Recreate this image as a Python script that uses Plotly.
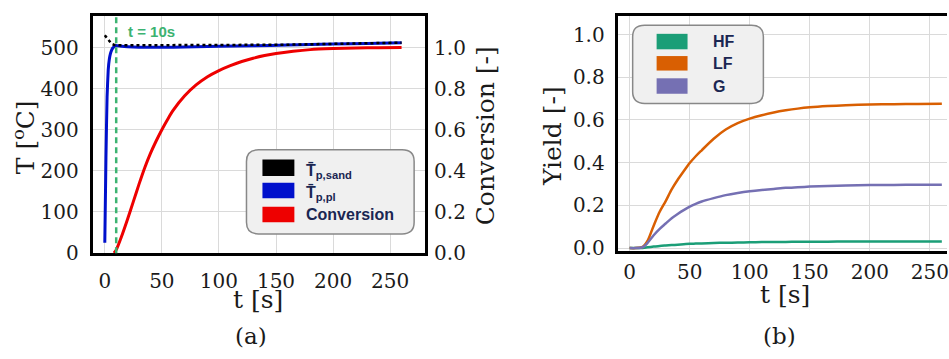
import plotly.graph_objects as go

# ---------------- data (a) ----------------
t_pl = [0, 1, 2, 3, 4, 5, 6, 7, 8, 9, 10, 15, 20, 30, 40, 60, 80, 100, 130, 160, 200, 230, 260]
T_pl = [25, 230, 380, 445, 472, 486, 494, 499, 502, 504, 505, 503, 502, 501, 501, 501, 502, 503, 504.5, 506, 508.5, 510, 511.5]

t_sand = [0, 2, 4, 6, 8, 10, 15, 20, 30, 40, 60, 80, 100, 130, 160, 200, 230, 260]
T_sand = [530, 522, 514, 509, 507, 506, 505.5, 505.5, 505.5, 505.5, 505.5, 505.5, 505.5, 506, 507, 509, 510.5, 512]

t_conv = [8, 10, 15, 20, 25, 30, 35, 40, 45, 50, 55, 60, 70, 80, 90, 100, 110, 120, 130, 140, 150, 165, 180, 200, 220, 240, 260]
conv = [0, 0.015, 0.085, 0.165, 0.25, 0.335, 0.415, 0.485, 0.545, 0.60, 0.65, 0.695, 0.765, 0.818, 0.858, 0.888,
        0.912, 0.932, 0.948, 0.961, 0.971, 0.982, 0.99, 0.995, 0.998, 0.999, 1.0]

t_event = 10

# ---------------- data (b) ----------------
t_y = [0, 5, 10, 12, 15, 20, 25, 30, 35, 40, 45, 50, 55, 60, 70, 80, 90, 100, 110, 120, 130, 140, 150, 165, 180, 200, 220, 240, 260]
HF = [0, 0, 0.001, 0.002, 0.004, 0.007, 0.01, 0.012, 0.014, 0.016, 0.018, 0.02, 0.021, 0.022, 0.024, 0.025, 0.026,
      0.027, 0.028, 0.029, 0.029, 0.03, 0.03, 0.03, 0.031, 0.031, 0.031, 0.031, 0.031]
LF = [0, 0, 0.004, 0.012, 0.035, 0.105, 0.17, 0.22, 0.275, 0.32, 0.36, 0.398, 0.43, 0.458, 0.512, 0.555, 0.585,
      0.606, 0.622, 0.635, 0.645, 0.653, 0.659, 0.665, 0.669, 0.672, 0.674, 0.675, 0.676]
G = [0, 0, 0.003, 0.008, 0.025, 0.06, 0.09, 0.115, 0.14, 0.16, 0.178, 0.194, 0.207, 0.218, 0.234, 0.248, 0.258,
     0.266, 0.272, 0.277, 0.282, 0.285, 0.288, 0.291, 0.293, 0.295, 0.296, 0.297, 0.297]

x_ticks = [0, 50, 100, 150, 200, 250]
T_ticks = [0, 100, 200, 300, 400, 500]
conv_ticks = [0.0, 0.2, 0.4, 0.6, 0.8, 1.0]
yield_ticks = [0.0, 0.2, 0.4, 0.6, 0.8, 1.0]

W, H = 949, 359
C_BLUE = "#0010cc"
C_RED = "#ee0000"
C_GREEN_V = "#3cb371"
C_HF = "#1b9e77"
C_LF = "#d95f02"
C_G = "#7570b3"
NAVY = "#1a2652"
SERIF = "DejaVu Serif"
SANS = "Liberation Sans"
TXT = "#1a1a1a"


def px(x):
    return x / W


def py(y):
    return 1 - y / H


fig = go.Figure()

# panel (a)
fig.add_trace(go.Scatter(x=t_pl, y=T_pl, mode="lines", line=dict(color=C_BLUE, width=3, shape="spline", smoothing=0.4),
                         xaxis="x", yaxis="y", showlegend=False))
fig.add_trace(go.Scatter(x=t_sand, y=T_sand, mode="lines", line=dict(color="black", width=2.5, dash="dot"),
                         xaxis="x", yaxis="y", showlegend=False))
fig.add_trace(go.Scatter(x=t_conv, y=conv, mode="lines", line=dict(color=C_RED, width=3, shape="spline", smoothing=0.8),
                         xaxis="x", yaxis="y2", showlegend=False))

# panel (b)
for arr, col in [(HF, C_HF), (LF, C_LF), (G, C_G)]:
    fig.add_trace(go.Scatter(x=t_y, y=arr, mode="lines", line=dict(color=col, width=2.5, shape="spline", smoothing=0.8),
                             xaxis="x2", yaxis="y3", showlegend=False))

tickfont = dict(family=SERIF, size=20, color=TXT)
titlefont = dict(family=SERIF, size=25, color=TXT)
axcommon = dict(showline=True, linecolor="black", linewidth=3, showgrid=True, gridcolor="#dadada",
                gridwidth=1, zeroline=False, ticks="", tickfont=tickfont)

fig.update_layout(
    width=W, height=H, margin=dict(l=0, r=0, t=0, b=0),
    paper_bgcolor="white", plot_bgcolor="white", showlegend=False,
    xaxis=dict(domain=[px(93), px(426)], range=[-10.5, 280.6], tickvals=x_ticks, mirror=True,
               anchor="y", ticklabelstandoff=8, **axcommon),
    yaxis=dict(domain=[py(262), py(16.5)], range=[-0.7, 577], tickvals=T_ticks, anchor="x",
               ticklabelstandoff=7, **axcommon),
    yaxis2=dict(overlaying="y", side="right", anchor="x", range=[-0.0014, 1.154], tickvals=conv_ticks,
                tickformat=".1f", showline=True, linecolor="black", linewidth=3, showgrid=False,
                zeroline=False, ticks="", tickfont=tickfont, ticklabelstandoff=2),
    xaxis2=dict(domain=[px(619), 1.0], range=[-9.97, 264.3], tickvals=x_ticks, mirror=True, anchor="y3",
                ticklabelstandoff=1, ticklabeloverflow="allow", **axcommon),
    yaxis3=dict(domain=[py(260), py(17)], range=[-0.015, 1.0846], tickvals=yield_ticks, tickformat=".1f",
                anchor="x2", ticklabelstandoff=6, **axcommon),
)

# vertical event line
fig.add_shape(type="line", xref="x", yref="paper", x0=t_event, x1=t_event, y0=py(262), y1=py(16.5),
              line=dict(color=C_GREEN_V, width=2.5, dash="6px,4px"))
fig.add_annotation(x=px(126), y=py(33), xref="paper", yref="paper", xanchor="left", yanchor="middle",
                   text="<b>t = 10s</b>", showarrow=False, font=dict(family=SANS, size=15, color=C_GREEN_V))


def rounded_rect(x0, y0, x1, y1, r):
    pts = (f"M {px(x0 + r)} {py(y0)} L {px(x1 - r)} {py(y0)} Q {px(x1)} {py(y0)} {px(x1)} {py(y0 + r)} "
           f"L {px(x1)} {py(y1 - r)} Q {px(x1)} {py(y1)} {px(x1 - r)} {py(y1)} "
           f"L {px(x0 + r)} {py(y1)} Q {px(x0)} {py(y1)} {px(x0)} {py(y1 - r)} "
           f"L {px(x0)} {py(y0 + r)} Q {px(x0)} {py(y0)} {px(x0 + r)} {py(y0)} Z")
    return pts


def legend_box(x0, y0, x1, y1, entries, sx0, sx1, lx):
    fig.add_shape(type="path", xref="paper", yref="paper", path=rounded_rect(x0, y0, x1, y1, 12),
                  fillcolor="#f0f0f0", line=dict(color="#888888", width=1.5), layer="above")
    for (col, label, ya, yb, ly) in entries:
        fig.add_shape(type="rect", xref="paper", yref="paper", x0=px(sx0), x1=px(sx1), y0=py(yb), y1=py(ya),
                      fillcolor=col, line=dict(width=0), layer="above")
        fig.add_annotation(x=px(lx), y=py(ly), xref="paper", yref="paper", xanchor="left", yanchor="middle",
                           text=label, showarrow=False, font=dict(family=SANS, size=16, color=NAVY))


legend_box(247, 155, 415, 242, [
    ("black", "<b>T\u0304<sub>p,sand</sub></b>", 165, 182, 177),
    (C_BLUE, "<b>T\u0304<sub>p,pl</sub></b>", 189, 205, 200),
    (C_RED, "<b>Conversion</b>", 214, 230, 222),
], 263, 295, 305)

legend_box(634, 26, 765, 107, [
    (C_HF, "<b>HF</b>", 35, 51, 43),
    (C_LF, "<b>LF</b>", 58, 73, 66),
    (C_G, "<b>G</b>", 81, 97, 89),
], 658, 689, 713)


def label(text, x, y, angle=0, font=titlefont):
    fig.add_annotation(x=px(x), y=py(y), xref="paper", yref="paper", xanchor="center", yanchor="middle",
                       text=text, showarrow=False, textangle=angle, font=font)


label("T [<sup>o</sup>C]", 24, 142, -90)
label("Conversion [-]", 486, 140, -90)
label("Yield [-]", 553, 141, -90)
label("t [s]", 259, 310)
label("t [s]", 787, 305)
label("(a)", 252, 348, font=dict(family=SERIF, size=23, color=TXT))
label("(b)", 781, 348, font=dict(family=SERIF, size=23, color=TXT))

fig.write_html("out.html")
